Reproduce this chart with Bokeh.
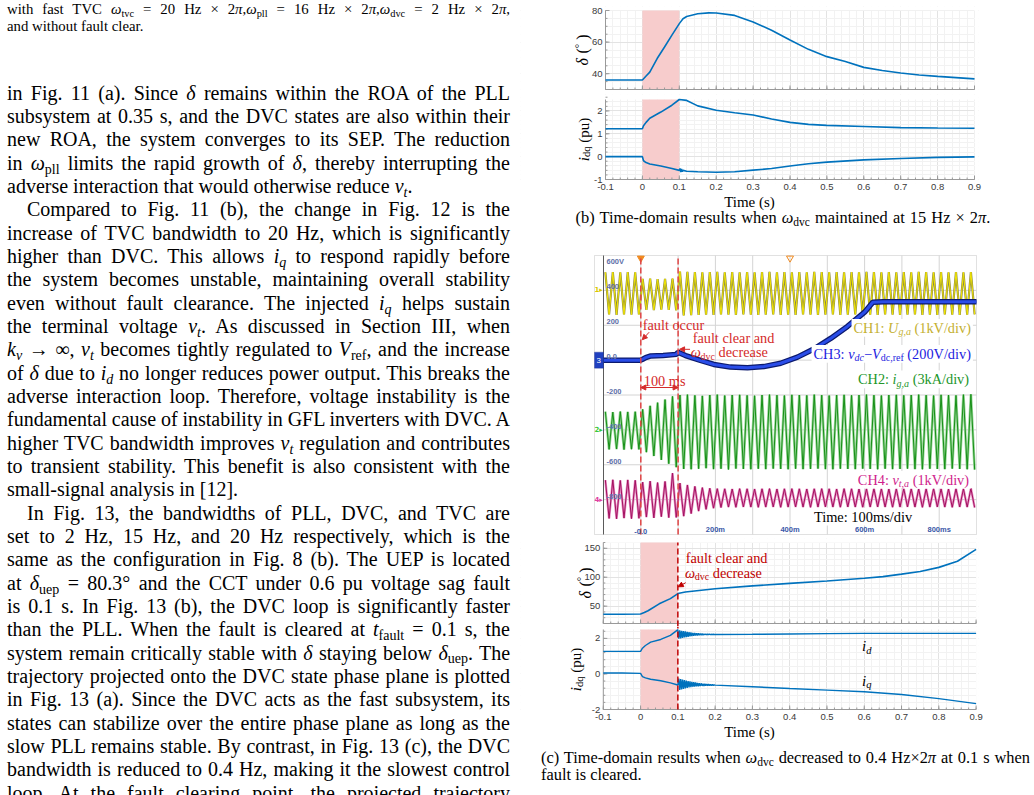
import numpy as np
from bokeh.plotting import figure
from bokeh.models import (Range1d, Label, Arrow, NormalHead, Div, Title,
                          FixedTicker, BoxAnnotation)
from bokeh.layouts import column, row
from bokeh.embed import file_html
from bokeh.resources import INLINE
from bokeh.core.properties import value

# ======================= DATA =======================
fault_on = 0.0
fault_off = 0.1

t_ticks = [-0.1, 0, 0.1, 0.2, 0.3, 0.4, 0.5, 0.6, 0.7, 0.8, 0.9]
t_tick_labels = ["-0.1", "0", "0.1", "0.2", "0.3", "0.4", "0.5", "0.6", "0.7", "0.8", "0.9"]

# ---- Fig (b): omega_dvc maintained at 15 Hz x 2pi ----
b_delta_t = [-0.1, -0.05, 0.0, 0.01, 0.02, 0.04, 0.06, 0.08, 0.1, 0.11, 0.12, 0.15, 0.18, 0.2,
             0.25, 0.3, 0.35, 0.4, 0.45, 0.5, 0.55, 0.6, 0.65, 0.7, 0.75, 0.8, 0.85, 0.9]
b_delta = [36, 36, 36, 38.5, 41, 49.6, 56.9, 64.4, 71.7, 74.8, 76.2, 77.9, 78.5, 78.4,
           76.9, 72.7, 67.5, 61.3, 55.4, 50.8, 47.7, 44.0, 42.0, 40.4, 39.2, 38.3, 37.5, 36.7]
b_delta_ticks = [40, 60, 80]

b_id_t = [-0.1, -0.05, 0.0, 0.003, 0.01, 0.02, 0.05, 0.08, 0.1, 0.12, 0.15, 0.2, 0.25, 0.3,
          0.35, 0.4, 0.45, 0.5, 0.6, 0.7, 0.8, 0.9]
b_id = [1.22, 1.22, 1.22, 1.35, 1.5, 1.68, 1.95, 2.25, 2.5, 2.46, 2.22, 2.03, 1.92, 1.82,
        1.65, 1.5, 1.41, 1.37, 1.32, 1.27, 1.25, 1.24]
b_iq_t = [-0.1, -0.05, 0.0, 0.003, 0.01, 0.02, 0.05, 0.08, 0.1, 0.102, 0.104, 0.106, 0.108,
          0.11, 0.12, 0.15, 0.2, 0.25, 0.3, 0.35, 0.4, 0.45, 0.5, 0.6, 0.7, 0.8, 0.9]
b_iq = [0.0, 0.0, 0.0, -0.18, -0.26, -0.32, -0.41, -0.52, -0.6, -0.52, -0.68, -0.54, -0.66,
        -0.6, -0.64, -0.66, -0.68, -0.66, -0.59, -0.52, -0.41, -0.31, -0.24, -0.14, -0.08, -0.03, -0.01]
b_idq_ticks = [-1, 0, 1, 2]

# ---- Fig (c): omega_dvc decreased at fault clearing ----
c_delta_t = [-0.1, -0.05, 0.0, 0.01, 0.02, 0.05, 0.08, 0.1, 0.12, 0.2, 0.3, 0.4, 0.5, 0.6,
             0.65, 0.7, 0.75, 0.8, 0.85, 0.9]
c_delta = [36, 36, 36.5, 39, 42, 54, 63, 71.7, 74.5, 80, 85, 89.4, 93.5, 98.2,
           101, 105.3, 110, 117, 127.6, 148]
c_delta_ticks = [50, 100, 150]

c_pre_t = [-0.1, -0.05, 0.0, 0.005, 0.013, 0.027, 0.054, 0.08, 0.0995]
c_id_pre = [1.27, 1.27, 1.27, 1.45, 1.6, 1.79, 1.94, 2.17, 2.48]
c_iq_pre = [0.05, 0.05, 0.03, -0.15, -0.22, -0.3, -0.38, -0.5, -0.62]
c_burst_t = np.linspace(0.1, 0.2, 41)          # sample instants of the post-clearing ringing
c_id_burst = [2.50, 1.98, 2.46, 2.00, 2.43, 2.03, 2.41, 2.05, 2.39, 2.07,
              2.37, 2.09, 2.35, 2.11, 2.33, 2.13, 2.31, 2.15, 2.30, 2.16,
              2.29, 2.17, 2.28, 2.18, 2.27, 2.19, 2.26, 2.19, 2.25, 2.20,
              2.25, 2.20, 2.24, 2.21, 2.24, 2.21, 2.23, 2.22, 2.23, 2.22, 2.22]
c_iq_burst = [-0.62, -0.26, -0.90, -0.29, -0.87, -0.32, -0.84, -0.35, -0.81, -0.38,
              -0.78, -0.40, -0.76, -0.42, -0.74, -0.44, -0.72, -0.46, -0.71, -0.48,
              -0.70, -0.50, -0.69, -0.52, -0.68, -0.53, -0.67, -0.55, -0.67, -0.56,
              -0.66, -0.57, -0.66, -0.58, -0.65, -0.59, -0.65, -0.60, -0.64, -0.61, -0.63]
c_post_t = [0.3, 0.4, 0.5, 0.6, 0.7, 0.8, 0.9]
c_id_post = [2.23, 2.25, 2.27, 2.28, 2.28, 2.28, 2.28]
c_iq_post = [-0.72, -0.82, -0.91, -1.0, -1.16, -1.39, -1.67]
c_idq_ticks = [-2, 0, 2]

# ---- Oscilloscope (experiment) : per-cycle peaks/troughs, 50 Hz, -0.1 .. 0.9 s ----
osc_ch1_peak = [504, 505, 503, 505, 504, 466, 467, 465, 466, 468,
                508, 506, 505, 504, 505, 506, 504, 505, 503, 505,
                504, 505, 506, 504, 505, 503, 505, 504, 506, 505,
                504, 505, 503, 505, 504, 506, 505, 504, 505, 503,
                505, 504, 506, 505, 504, 505, 503, 505, 504, 505]
osc_ch1_trough = [262, 260, 262, 261, 262, 288, 287, 289, 288, 286,
                  256, 258, 260, 261, 260, 262, 261, 260, 262, 261,
                  260, 261, 262, 260, 261, 260, 262, 261, 260, 261,
                  262, 260, 261, 262, 260, 261, 260, 262, 261, 260,
                  261, 262, 260, 261, 260, 262, 261, 260, 261, 262]
osc_ch2_peak = [-296, -298, -295, -297, -296, -282, -262, -244, -226, -208,
                -200, -198, -202, -205, -200, -198, -203, -200, -199, -202,
                -204, -200, -198, -201, -203, -199, -200, -202, -198, -201,
                -203, -200, -199, -202, -200, -198, -201, -203, -200, -199,
                -202, -200, -198, -201, -203, -199, -200, -202, -198, -196]
osc_ch2_trough = [-512, -510, -513, -511, -512, -528, -550, -572, -594, -614,
                  -624, -626, -623, -620, -625, -623, -627, -622, -624, -626,
                  -623, -625, -622, -624, -626, -623, -625, -624, -622, -625,
                  -626, -623, -624, -625, -622, -624, -626, -623, -625, -624,
                  -622, -625, -626, -623, -624, -625, -622, -624, -626, -628]
osc_ch4_peak = [-688, -686, -690, -687, -689, -700, -694, -702, -696, -648,
                -705, -716, -724, -731, -735, -737, -738, -739, -737, -738,
                -739, -738, -737, -739, -738, -737, -738, -739, -738, -737,
                -738, -739, -737, -738, -739, -738, -737, -738, -739, -738,
                -737, -738, -739, -738, -737, -738, -739, -737, -738, -736]
osc_ch4_trough = [-908, -910, -906, -909, -907, -900, -905, -898, -903, -902,
                  -895, -880, -866, -856, -849, -845, -843, -844, -842, -843,
                  -844, -843, -842, -844, -843, -842, -843, -844, -843, -842,
                  -843, -844, -842, -843, -844, -843, -842, -843, -844, -843,
                  -842, -843, -844, -843, -842, -843, -844, -842, -843, -845]
osc_vdc_t = [-0.1, 0.0, 0.005, 0.013, 0.027, 0.06, 0.095, 0.1, 0.12, 0.16, 0.196, 0.24,
             0.286, 0.33, 0.375, 0.42, 0.465, 0.51, 0.554, 0.6, 0.622, 0.65, 0.9]
osc_vdc = [0, 0, 5, 14, 24, 27, 33, 45, 26, -2, -25, -40,
           -44, -37, -18, 17, 65, 126, 193, 275, 332, 335, 335]
osc_ch_offset = {"1": 400, "2": -400, "3": 0, "4": -800}
osc_grid_t = [0.0, 0.1, 0.2, 0.3, 0.4, 0.5, 0.6, 0.7, 0.8]
osc_grid_v = [400, 200, 0, -200, -400, -600, -800]
osc_y_labels = ["600V", "400", "200", "0.0", "-200", "-400", "-600", "-800"]
osc_y_label_v = [600, 400, 200, 0, -200, -400, -600, -800]
osc_x_labels = ["-0.0", "200m", "400m", "600m", "800ms"]
osc_x_label_t = [0.0, 0.2, 0.4, 0.6, 0.8]
strip_labels = ["-0.0", "200m", "400m", "600m"]
strip_label_t = [0.0, 0.2, 0.4, 0.6]
strip_grid_t = [0.3, 0.5]

# ======================= TEXT METRICS (Times) =======================
TR = {' ': 250, '(': 333, ')': 333, ',': 250, '-': 333, '.': 250, '/': 278, ':': 278, '=': 564,
      '−': 564, '×': 564, '°': 400, 'A': 722, 'C': 667, 'D': 722, 'H': 722, 'I': 333, 'T': 611,
      'U': 722, 'V': 722, 'a': 444, 'b': 500, 'c': 444, 'd': 500, 'e': 444, 'f': 333, 'g': 500,
      'h': 500, 'i': 278, 'k': 500, 'l': 278, 'm': 778, 'n': 500, 'o': 500, 'p': 500, 'q': 500,
      'r': 333, 's': 389, 't': 278, 'u': 500, 'v': 500, 'w': 722, 'δ': 500, 'ω': 686, 'π': 549}
TI = {'U': 722, 'V': 611, 'a': 500, 'c': 444, 'd': 500, 'g': 500, 'i': 278, 'q': 500, 't': 278,
      'v': 444, ',': 250, 'δ': 500, 'ω': 686}


def text_w(s, size, italic=False):
    tot = 0
    for ch in s:
        if italic and ch in TI:
            tot += TI[ch]
        else:
            tot += TR.get(ch, 500)
    return tot * size / 1000.0


SERIF = "Liberation Serif"
BLUE = "#0072BD"


def _split(t):
    s = t.lstrip(" ")
    return s, t[:len(t) - len(s)]


def rich_v(p, x, y, x_off, pieces, color="black"):
    """vertical (rotated) composite label; pieces = (text, size, italic, shift)"""
    total = sum(text_w(t, s, it) for t, s, it, sh in pieces)
    cum = -total / 2.0
    for t, s, it, sh in pieces:
        txt, lead = _split(t)
        p.add_layout(Label(x=x, y=y, x_offset=x_off + sh, y_offset=cum + text_w(lead, s, it), text=txt,
                           angle=np.pi / 2, text_font=SERIF, text_font_size=f"{s}px",
                           text_font_style="italic" if it else "normal",
                           text_align="left", text_baseline="middle", text_color=color))
        cum += text_w(t, s, it)


def rich_h(p, x, y, pieces, color, align="left", bg=False, xpu=1.0, ypu=1.0, fs=14.3):
    total = sum(text_w(t, s, it) for t, s, it, sh in pieces)
    start = {"left": 0.0, "right": -total, "center": -total / 2.0}[align]
    if bg:
        p.add_layout(BoxAnnotation(left=x + (start - 2) / xpu, right=x + (start + total + 2) / xpu,
                                   bottom=y - (fs * 0.62) / ypu, top=y + (fs * 0.62) / ypu,
                                   fill_color="white", fill_alpha=1.0, line_color=None))
    cum = start
    for t, s, it, sh in pieces:
        txt, lead = _split(t)
        p.add_layout(Label(x=x, y=y, x_offset=cum + text_w(lead, s, it), y_offset=-sh, text=txt,
                           text_font=SERIF, text_font_size=f"{s}px",
                           text_font_style="italic" if it else "normal",
                           text_align="left", text_baseline="middle", text_color=color))
        cum += text_w(t, s, it)


# ---- all right-column figures share the same frame (x 520 .. 978) so the column does not re-align them
W_R = 514
RB = 56
FW = W_R - RB
COL_X0 = 520


def xrange_for(px_m01, pxs):
    """x range such that t = -0.1 sits at absolute pixel px_m01 with pxs pixels per second"""
    x0 = -0.1 - (px_m01 - COL_X0) / pxs
    return Range1d(x0, x0 + FW / pxs)


x_minor = [round(-0.1 + 0.02 * k, 3) for k in range(51)]
AXC = "#9a9a9a"
TICKC = "#3a3a3a"


def mfig(height, top, bottom, yr, yticks, yminor, show_x, px_m01, pxs):
    """MATLAB-like axes. The frame covers the label area on the left and a few pixels above /
    below the axes box so tick labels at the box edges are not clipped."""
    pad_t = min(top, 6)
    pad_b = min(bottom, 4 if show_x else 5)
    core = height - top - bottom
    upp = (yr[1] - yr[0]) / core
    y_lo = yr[0] - pad_b * upp
    y_hi = yr[1] + pad_t * upp
    xpp = 1.0 / pxs
    p = figure(width=W_R, height=height, x_range=xrange_for(px_m01, pxs), y_range=Range1d(y_lo, y_hi),
               output_backend="svg", toolbar_location=None,
               min_border_left=0, min_border_right=RB,
               min_border_top=top - pad_t, min_border_bottom=bottom - pad_b)
    p.outline_line_color = None
    p.border_fill_color = "white"
    p.background_fill_color = "white"
    p.yaxis.visible = False
    xt = FixedTicker(ticks=t_ticks, minor_ticks=x_minor)
    yt = FixedTicker(ticks=yticks, minor_ticks=yminor)
    p.xaxis.ticker = xt
    p.xgrid.ticker = xt
    p.ygrid.ticker = yt
    p.xgrid.grid_line_color = "#e3e3e3"
    p.ygrid.grid_line_color = "#e3e3e3"
    p.xgrid.minor_grid_line_color = "#f2f2f2"
    p.ygrid.minor_grid_line_color = "#f2f2f2"
    # blank everything outside the axes box
    for kw in (dict(right=-0.1), dict(left=0.9), dict(bottom=yr[1]), dict(top=yr[0])):
        p.add_layout(BoxAnnotation(fill_color="white", fill_alpha=1.0, line_color=None,
                                   level="underlay", **kw))
    p.add_layout(BoxAnnotation(left=fault_on, right=fault_off, bottom=yr[0], top=yr[1],
                               fill_color="#f7cccc", fill_alpha=1.0, line_color=None, level="underlay"))
    # axis lines and inward ticks
    p.segment(x0=-0.1, y0=yr[0], x1=-0.1, y1=yr[1], line_color=AXC, line_width=1)
    p.segment(x0=-0.1, y0=yr[0], x1=0.9, y1=yr[0], line_color=AXC, line_width=1)
    p.segment(x0=t_ticks, y0=yr[0], x1=t_ticks, y1=yr[0] + 4 * upp, line_color=AXC, line_width=1)
    p.segment(x0=x_minor, y0=yr[0], x1=x_minor, y1=yr[0] + 2 * upp, line_color=AXC, line_width=1)
    p.segment(x0=-0.1, y0=yticks, x1=-0.1 + 4 * xpp, y1=yticks, line_color=AXC, line_width=1)
    p.segment(x0=-0.1, y0=yminor, x1=-0.1 + 2 * xpp, y1=yminor, line_color=AXC, line_width=1)
    p.text(x=-0.1, y=yticks, text=[str(v) for v in yticks], x_offset=-3,
           text_font=value("Liberation Sans"), text_font_size="9.5px", text_color=TICKC,
           text_align="right", text_baseline="middle")
    if show_x:
        ax = p.xaxis[0]
        ax.axis_line_color = None
        ax.major_tick_line_color = None
        ax.minor_tick_line_color = None
        ax.major_tick_in = 0
        ax.major_tick_out = 0
        ax.minor_tick_in = 0
        ax.minor_tick_out = 0
        ax.major_label_text_font = "Liberation Sans"
        ax.major_label_text_font_size = "9.5px"
        ax.major_label_text_color = TICKC
        ax.major_label_standoff = 0
        ax.major_label_overrides = dict(zip(t_ticks, t_tick_labels))
        # centre "Time (s)" on the axes box, not on the (wider) frame
        box_c = px_m01 + 0.5 * pxs
        frame_c = COL_X0 + FW / 2.0
        p.add_layout(Title(text="Time (s)", align="center", offset=box_c - frame_c + 2, text_font=SERIF,
                           text_font_size="15px", text_font_style="normal", text_color="black",
                           standoff=-2), "below")
    else:
        p.xaxis.visible = False
    return p


def frange(a, b, step):
    n = int(round((b - a) / step))
    return [round(a + step * k, 4) for k in range(n + 1)]


DELTA_LAB = [("δ", 16, True, 0), (" (", 16, False, 0), ("°", 11, False, -4), (" )", 16, False, 0)]
IDQ_LAB = [("i", 15, True, 0), ("dq", 10.5, False, 3), (" (pu)", 15, False, 0)]

# ---------------- strip (bottom of previous oscilloscope shot) ----------------
strip = figure(width=W_R, height=6, x_range=xrange_for(606, 368.0), y_range=Range1d(0, 6),
               x_axis_type=None, y_axis_type=None, output_backend="svg", toolbar_location=None,
               min_border_left=0, min_border_right=RB, min_border_top=0, min_border_bottom=0)
strip.outline_line_color = None
strip.grid.visible = False
strip.add_layout(BoxAnnotation(left=0.598, right=0.905, bottom=-2, top=8, fill_color="white",
                               fill_alpha=1, line_color="#909090", level="underlay"))
strip.segment(x0=strip_grid_t, y0=0, x1=strip_grid_t, y1=6, line_color="#c8c8c8", line_width=1)
strip.segment(x0=-0.1, y0=0, x1=-0.1, y1=6, line_color="#707070", line_width=1)
strip.segment(x0=-0.1, y0=1.5, x1=0.598, y1=1.5, line_color="#808080", line_width=1)
strip.segment(x0=[fault_on, fault_off], y0=0, x1=[fault_on, fault_off], y1=6, line_color="#d03030",
              line_width=1)
strip.text(x=strip_label_t, y=[2] * len(strip_label_t), text=strip_labels,
           text_font=value("Liberation Sans"), text_font_size="7px", text_font_style="bold",
           text_color="#a09040", text_align="center", text_baseline="bottom")
strip.text(x=[0.748], y=[1.5], text=["Time: 100ms/div"], text_font=value(SERIF),
           text_font_size="14.4px", text_align="center", text_baseline="alphabetic", text_color="black")

# ---------------- Fig (b) ----------------
B_PXS = 369.0
B_M01 = 605.0
bd = mfig(88, 4, 5, (30, 80), b_delta_ticks, frange(30, 80, 5), False, B_M01, B_PXS)
bd.line(b_delta_t, b_delta, line_color=BLUE, line_width=1.6)
rich_v(bd, -0.1, 55, -23, DELTA_LAB)

bi = mfig(118, 5, 33, (-1, 2.5), b_idq_ticks, frange(-1, 2.5, 0.2), True, B_M01, B_PXS)
bi.line(b_id_t, b_id, line_color=BLUE, line_width=1.6)
bi.line(b_iq_t, b_iq, line_color=BLUE, line_width=1.6)
rich_v(bi, -0.1, 0.75, -22, IDQ_LAB)


def I(s):
    return f"<i>{s}</i>"


def SB(s):
    return f'<span style="font-size:0.7em;position:relative;top:0.28em;line-height:0">{s}</span>'


def line_div(html, top, left, width, fs, lh, justify=True, indent=0, ws=-1.0):
    last = "justify" if justify else "left"
    wsv = ws if justify else 0
    return (f'<div style="position:absolute;left:{left}px;top:{top:.2f}px;width:{width}px;'
            f'font-size:{fs}px;line-height:{lh}px;text-align:justify;text-align-last:{last};'
            f'text-indent:{indent}px;word-spacing:{wsv}px;">{html}</div>')


cap_b_html = ("(b) Time-domain results when " + I("ω") + SB("dvc") +
              " maintained at 15 Hz × 2" + I("π") + ".")
cap_b = Div(width=W_R, height=20, margin=0, text=(
    f'<div style="position:relative;width:{W_R}px;height:20px;font-family:\'{SERIF}\',serif;color:#000">'
    f'<div style="position:absolute;left:263px;top:0px;transform:translateX(-50%);white-space:nowrap;'
    f'font-size:16.4px;line-height:12px;word-spacing:1px">{cap_b_html}</div></div>'))

# ---------------- Oscilloscope ----------------
OSC_PX_T = 373.0          # px per second
OSC_PX_V = 279.0 / 1600.0  # px per unit
OSC_PAD = 2
osc = figure(width=W_R, height=306, x_range=xrange_for(603.0, OSC_PX_T),
             y_range=Range1d(-1000 - OSC_PAD / OSC_PX_V, 600 + OSC_PAD / OSC_PX_V),
             x_axis_type=None, y_axis_type=None, output_backend="svg", toolbar_location=None,
             min_border_left=0, min_border_right=RB, min_border_top=23 - OSC_PAD,
             min_border_bottom=4 - OSC_PAD)
osc.grid.visible = False
osc.outline_line_color = None
osc.background_fill_color = "white"
OSC_LEFT = -0.1 - 9 / OSC_PX_T
osc.add_layout(BoxAnnotation(left=OSC_LEFT, right=0.9, bottom=-1000, top=600, fill_alpha=0,
                             line_color="#9a9a9a", line_width=1, level="underlay"))
osc.segment(x0=osc_grid_t, y0=-1000, x1=osc_grid_t, y1=600, line_color="#d4d4d4", line_width=1)
osc.segment(x0=-0.1, y0=osc_grid_v, x1=0.9, y1=osc_grid_v, line_color="#d4d4d4", line_width=1)
osc.segment(x0=-0.1, y0=-1000, x1=-0.1, y1=600, line_color="#5a5a5a", line_width=1)

ext_t = -0.1 + 0.005 + 0.01 * np.arange(100)   # instants of the half-cycle extrema


def zig(peaks, troughs):
    v = np.empty(2 * len(peaks))
    v[0::2] = peaks
    v[1::2] = troughs
    return v


osc.line(ext_t, zig(osc_ch1_peak, osc_ch1_trough), line_color="#8e8a40", line_width=2.2)
osc.line(ext_t, zig(osc_ch1_peak, osc_ch1_trough), line_color="#f2e600", line_width=1.0)
osc.line(ext_t, zig(osc_ch2_peak, osc_ch2_trough), line_color="#9ad89a", line_width=2.6)
osc.line(ext_t, zig(osc_ch2_peak, osc_ch2_trough), line_color="#178f17", line_width=1.0)
osc.line(ext_t, zig(osc_ch4_peak, osc_ch4_trough), line_color="#e68fc2", line_width=2.4)
osc.line(ext_t, zig(osc_ch4_peak, osc_ch4_trough), line_color="#a3105f", line_width=1.0)
osc.line(osc_vdc_t, osc_vdc, line_color="#0c1a6e", line_width=5.5)
osc.line(osc_vdc_t, osc_vdc, line_color="#2a4de8", line_width=3)

for i, (lab, vv) in enumerate(zip(osc_y_labels, osc_y_label_v)):
    osc.add_layout(Label(x=-0.1, y=vv, x_offset=3, y_offset=(-1 if i == 0 else 1), text=lab,
                         text_font="Liberation Sans", text_font_size="7.5px", text_font_style="bold",
                         text_color="#6070a8", text_baseline=("top" if i == 0 else "bottom")))
for lab, tt in zip(osc_x_labels, osc_x_label_t):
    osc.add_layout(Label(x=tt, y=-1000, y_offset=1, text=lab, text_font="Liberation Sans",
                         text_font_size="7.5px", text_font_style="bold", text_color="#3a58a8",
                         text_align="center", text_baseline="bottom"))

# channel markers
ch_cols = {"1": "#d8c800", "2": "#3ac83a", "3": "#2040c0", "4": "#e040a0"}
for ch, vv in osc_ch_offset.items():
    if ch == "3":
        osc.add_layout(BoxAnnotation(left=OSC_LEFT, right=-0.1, bottom=vv - 8 / OSC_PX_V,
                                     top=vv + 8 / OSC_PX_V, fill_color="#2040c0", fill_alpha=1,
                                     line_color="#102080"))
        osc.add_layout(Label(x=-0.1, y=vv, x_offset=-7, text="3", text_font="Liberation Sans",
                             text_font_size="8px", text_color="white", text_baseline="middle"))
    else:
        osc.add_layout(Label(x=-0.1, y=vv, x_offset=-9, text=ch + "▸", text_font="DejaVu Sans",
                             text_font_size="7px", text_font_style="bold", text_color=ch_cols[ch],
                             text_baseline="middle"))

osc.scatter([fault_on], [585], marker="inverted_triangle", size=7, color="#f08a20")
osc.scatter([0.4], [585], marker="inverted_triangle", size=7, fill_color=None, line_color="#f08a20")

RED = "#d42a2a"
osc.segment(x0=[fault_on, fault_off], y0=-1000, x1=[fault_on, fault_off], y1=600,
            line_color="#e04545", line_width=1.5, line_dash="6 3")

rich_h(osc, 0.005, 204, [("fault occur", 14.3, False, 0)], RED, xpu=OSC_PX_T, ypu=OSC_PX_V)
osc.add_layout(Arrow(end=NormalHead(size=5, fill_color=RED, line_color=RED),
                     x_start=0.0223, y_start=160, x_end=0.004, y_end=117, line_color=RED, line_width=1))
rich_h(osc, 0.139, 128, [("fault clear and", 14.3, False, 0)], RED, xpu=OSC_PX_T, ypu=OSC_PX_V)
rich_h(osc, 0.134, 45, [("ω", 14.3, True, 0), ("dvc", 10, False, 4), (" decrease", 14.3, False, 0)],
       RED, xpu=OSC_PX_T, ypu=OSC_PX_V)
osc.add_layout(Arrow(end=NormalHead(size=5, fill_color=RED, line_color=RED),
                     x_start=0.132, y_start=62, x_end=0.104, y_end=62, line_color=RED, line_width=1))
rich_h(osc, 0.008, -117, [("100 ms", 14.3, False, 0)], RED, xpu=OSC_PX_T, ypu=OSC_PX_V)
osc.add_layout(Arrow(start=NormalHead(size=5, fill_color=RED, line_color=RED),
                     end=NormalHead(size=5, fill_color=RED, line_color=RED),
                     x_start=fault_on, y_start=-157, x_end=fault_off, y_end=-157,
                     line_color=RED, line_width=1))

rich_h(osc, 0.885, 185, [("CH1: ", 14.3, False, 0), ("U", 14.3, True, 0), ("g,a", 10, True, 4),
                         (" (1kV/div)", 14.3, False, 0)], "#c4b030", align="right", bg=True,
       xpu=OSC_PX_T, ypu=OSC_PX_V)
rich_h(osc, 0.885, 36, [("CH3: ", 14.3, False, 0), ("v", 14.3, True, 0), ("dc", 10, True, 4),
                        ("−", 14.3, False, 0), ("V", 14.3, True, 0), ("dc,ref", 10, False, 4),
                        (" (200V/div)", 14.3, False, 0)], "#1c1ce0", align="right", bg=True,
       xpu=OSC_PX_T, ypu=OSC_PX_V)
rich_h(osc, 0.880, -111, [("CH2: ", 14.3, False, 0), ("i", 14.3, True, 0), ("g,a", 10, True, 4),
                          (" (3kA/div)", 14.3, False, 0)], "#22962a", align="right", bg=True,
       xpu=OSC_PX_T, ypu=OSC_PX_V)
rich_h(osc, 0.880, -686, [("CH4: ", 14.3, False, 0), ("v", 14.3, True, 0), ("t,a", 10, True, 4),
                          (" (1kV/div)", 14.3, False, 0)], "#d01e8c", align="right", bg=True,
       xpu=OSC_PX_T, ypu=OSC_PX_V)
rich_h(osc, 0.5965, -897, [("Time: 100ms/div", 14.4, False, 0)], "black", align="center", bg=True,
       xpu=OSC_PX_T, ypu=OSC_PX_V)

# ---------------- Fig (c) ----------------
DRED = "#c00000"
C_PXS = 372.8
C_M01 = 602.8
cd = mfig(88, 4, 3, (20, 160), c_delta_ticks, frange(20, 160, 10), False, C_M01, C_PXS)
cd.line(c_delta_t, c_delta, line_color=BLUE, line_width=1.6)
# the clearing marker runs on through the gap between the two panels
cd.segment(x0=fault_off, y0=cd.y_range.start, x1=fault_off, y1=160, line_color=DRED, line_width=1.5,
           line_dash="6 3")
rich_v(cd, -0.1, 90, -18, DELTA_LAB)
C_PX_D = 28.3 / 50.0
rich_h(cd, 0.121, 134, [("fault clear and", 14.3, False, 0)], DRED, xpu=C_PXS, ypu=C_PX_D)
rich_h(cd, 0.119, 107.6, [("ω", 14.3, True, 0), ("dvc", 10, False, 4), (" decrease", 14.3, False, 0)],
       DRED, xpu=C_PXS, ypu=C_PX_D)
cd.add_layout(Arrow(end=NormalHead(size=5, fill_color=DRED, line_color=DRED),
                    x_start=0.121, y_start=90.5, x_end=0.101, y_end=83.4, line_color=DRED, line_width=1))

ci = mfig(116, 3, 33, (-2, 2.5), c_idq_ticks, frange(-2, 2.5, 0.4), True, C_M01, C_PXS)
c_t_all = list(c_pre_t) + list(c_burst_t) + list(c_post_t)
ci.line(c_t_all, list(c_id_pre) + list(c_id_burst) + list(c_id_post), line_color=BLUE, line_width=1.4)
ci.line(c_t_all, list(c_iq_pre) + list(c_iq_burst) + list(c_iq_post), line_color=BLUE, line_width=1.4)
ci.segment(x0=fault_off, y0=-2, x1=fault_off, y1=ci.y_range.end, line_color=DRED, line_width=1.5,
           line_dash="6 3")
rich_v(ci, -0.1, 0.25, -27, IDQ_LAB)
rich_h(ci, 0.594, 1.56, [("i", 15, True, 0), ("d", 10.5, True, 4)], "black")
rich_h(ci, 0.594, -0.38, [("i", 15, True, 0), ("q", 10.5, True, 4)], "black")

cap_c1 = ("(c) Time-domain results when " + I("ω") + SB("dvc") + " decreased to 0.4 Hz×2" + I("π") +
          " at 0.1 s when")
cap_c2 = "fault is cleared."
cap_c = Div(width=W_R, height=53, margin=0, text=(
    f'<div style="position:relative;width:{W_R}px;height:53px;font-family:\'{SERIF}\',serif;color:#000">'
    + line_div(cap_c1, 6.5, 21, 489, 16.4, 17)
    + line_div(cap_c2, 23.5, 21, 489, 16.4, 17, justify=False)
    + '</div>'))

# ---------------- left text column ----------------
cap_top = [
    "with fast TVC " + I("ω") + SB("tvc") + " = 20 Hz × 2" + I("π") + "," + I("ω") + SB("pll") +
    " = 16 Hz × 2" + I("π") + "," + I("ω") + SB("dvc") + " = 2 Hz × 2" + I("π") + ",",
    "and without fault clear.",
]
body = [
    "in Fig. 11 (a). Since " + I("δ") + " remains within the ROA of the PLL",
    "subsystem at 0.35 s, and the DVC states are also within their",
    "new ROA, the system converges to its SEP. The reduction",
    "in " + I("ω") + SB("pll") + " limits the rapid growth of " + I("δ") + ", thereby interrupting the",
    "adverse interaction that would otherwise reduce " + I("v") + SB(I("t")) + ".",
    "Compared to Fig. 11 (b), the change in Fig. 12 is the",
    "increase of TVC bandwidth to 20 Hz, which is significantly",
    "higher than DVC. This allows " + I("i") + SB(I("q")) + " to respond rapidly before",
    "the system becomes unstable, maintaining overall stability",
    "even without fault clearance. The injected " + I("i") + SB(I("q")) + " helps sustain",
    "the terminal voltage " + I("v") + SB(I("t")) + ". As discussed in Section III, when",
    I("k") + SB(I("v")) + " → ∞, " + I("v") + SB(I("t")) + " becomes tightly regulated to " + I("V") +
    SB("ref") + ", and the increase",
    "of " + I("δ") + " due to " + I("i") + SB(I("d")) + " no longer reduces power output. This breaks the",
    "adverse interaction loop. Therefore, voltage instability is the",
    "fundamental cause of instability in GFL inverters with DVC. A",
    "higher TVC bandwidth improves " + I("v") + SB(I("t")) + " regulation and contributes",
    "to transient stability. This benefit is also consistent with the",
    "small-signal analysis in [12].",
    "In Fig. 13, the bandwidths of PLL, DVC, and TVC are",
    "set to 2 Hz, 15 Hz, and 20 Hz respectively, which is the",
    "same as the configuration in Fig. 8 (b). The UEP is located",
    "at " + I("δ") + SB("uep") + " = 80.3° and the CCT under 0.6 pu voltage sag fault",
    "is 0.1 s. In Fig. 13 (b), the DVC loop is significantly faster",
    "than the PLL. When the fault is cleared at " + I("t") + SB("fault") + " = 0.1 s, the",
    "system remain critically stable with " + I("δ") + " staying below " + I("δ") + SB("uep") + ". The",
    "trajectory projected onto the DVC state phase plane is plotted",
    "in Fig. 13 (a). Since the DVC acts as the fast subsystem, its",
    "states can stabilize over the entire phase plane as long as the",
    "slow PLL remains stable. By contrast, in Fig. 13 (c), the DVC",
    "bandwidth is reduced to 0.4 Hz, making it the slowest control",
    "loop. At the fault clearing point, the projected trajectory",
]
para_last = {4, 17}
indented = {5, 18}

parts = [f'<div style="position:relative;width:520px;height:795px;overflow:hidden;'
         f'font-family:\'{SERIF}\',serif;color:#000">']
parts.append(line_div(cap_top[0], 1.0, 7, 503, 14.8, 17))
parts.append(line_div(cap_top[1], 18.0, 7, 503, 14.8, 17, justify=False))
LH = 23.33
for i, h in enumerate(body):
    parts.append(line_div(h, 81.67 + LH * i, 7, 503, 20, LH, justify=(i not in para_last),
                          indent=(20 if i in indented else 0)))
parts.append('</div>')
left = Div(width=520, height=795, margin=0, text="".join(parts))

right = column(strip, bd, bi, cap_b, osc, cd, ci, cap_c, spacing=0)
page = row(left, right, spacing=0)

open("out.html", "w").write(file_html(page, INLINE))
